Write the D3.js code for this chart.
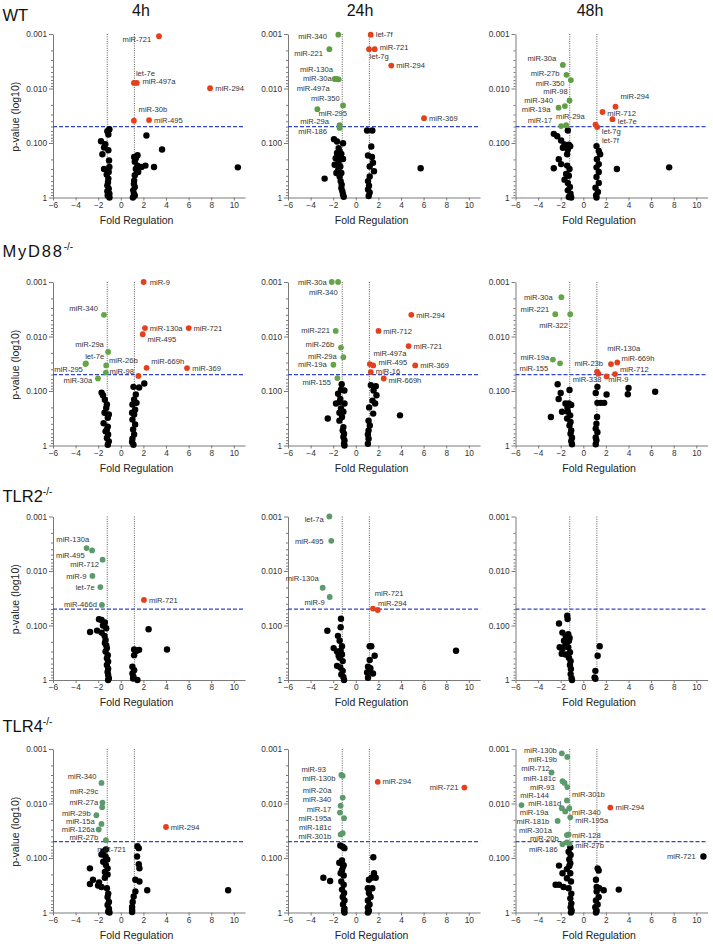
<!DOCTYPE html>
<html>
<head>
<meta charset="utf-8">
<script src="https://cdn.jsdelivr.net/npm/d3@7"></script>
<style>
  body { margin: 0; background: #fff; }
  svg { display: block; }
  text { font-family: "Liberation Sans", Arial, sans-serif; }
</style>
</head>
<body>
<svg id="chart" width="713" height="944"></svg>
<script>
// ----------------------------
// Data
// ----------------------------
const genotypes = ['WT', 'MyD88', 'TLR2', 'TLR4'];
const timepoints = ['4h', '24h', '48h'];
const xTicks = [-6, -4, -2, 0, 2, 4, 6, 8, 10];
const yTicks = [0.001, 0.01, 0.1, 1];
const yTickLabels = ['0.001', '0.010', '0.100', '1'];
const pCutoff = 0.05;
const foldCutoff = 1.2;

// significant / labelled miRNAs: [name, fold regulation, p-value, direction]
const wt4hSig = [
  ['miR-721', 3.38, 0.0011, 'up'], ['let-7e', 1.16, 0.0079, 'up'], ['miR-497a', 1.42, 0.0079, 'up'],
  ['miR-294', 7.9, 0.0099, 'up'], ['miR-30b', 1.16, 0.039, 'up'], ['miR-495', 2.5, 0.038, 'up']
];
const wt4hNs = [
  [-1.01, 0.056], [-1.19, 0.061], [-1.07, 0.058], [-1.75, 0.093], [-1.37, 0.105], [-1.10, 0.070], [-1.63, 0.161],
  [-1.10, 0.136], [-1.48, 0.121], [-1.04, 0.21], [-1.48, 0.30], [-1.01, 0.275], [-1.10, 0.45], [-1.13, 0.52],
  [-1.19, 0.60], [-1.07, 0.69], [-1.19, 0.77], [-1.01, 0.85], [-1.16, 0.92], [-1.0, 1.0], [-1.07, 0.34], [-1.25, 0.38],
  [2.27, 0.073], [3.65, 0.132], [2.94, 0.275], [1.48, 0.168], [1.33, 0.19], [1.24, 0.22], [1.48, 0.26], [2.18, 0.26],
  [1.83, 0.275], [1.54, 0.34], [1.24, 0.39], [1.18, 0.49], [1.16, 0.56], [1.24, 0.64], [1.10, 0.74], [1.16, 0.85],
  [1.24, 0.92], [1.07, 1.0], [10.36, 0.28], [1.18, 0.18], [1.33, 0.30]
];

const wt24hSig = [
  ['miR-340', -1.55, 0.00103, 'down'], ['miR-221', -2.34, 0.0019, 'down'], ['miR-130a', -1.87, 0.0067, 'down'],
  ['miR-30a', -1.69, 0.0067, 'down'], ['miR-497a', -1.52, 0.0068, 'down'], ['miR-350', -1.13, 0.0205, 'down'],
  ['miR-295', -3.40, 0.024, 'down'], ['miR-29a', -1.43, 0.047, 'down'], ['miR-186', -1.43, 0.053, 'down'],
  ['let-7f', 1.32, 0.00103, 'up'], ['miR-721', 1.67, 0.0019, 'up'], ['let-7g', 1.17, 0.0019, 'up'],
  ['miR-294', 3.14, 0.0038, 'up'], ['miR-369', 6.04, 0.035, 'up']
];
const wt24hNs = [
  [-1.93, 0.085], [-1.66, 0.094], [-1.52, 0.124], [-1.13, 0.101], [-1.66, 0.153], [-1.43, 0.143], [-1.28, 0.158],
  [-1.78, 0.19], [-1.52, 0.22], [-1.13, 0.197], [-1.87, 0.25], [-1.37, 0.27], [-1.55, 0.31], [-1.28, 0.355],
  [-1.43, 0.41], [-1.34, 0.50], [-1.25, 0.58], [-1.28, 0.67], [-1.19, 0.77], [-1.13, 0.88], [-1.07, 0.97],
  [-1.58, 0.176], [-1.72, 0.355], [-2.76, 0.45],
  [1.0, 0.059], [1.46, 0.059], [1.37, 0.116], [1.08, 0.17], [1.43, 0.18], [1.52, 0.23], [1.23, 0.27], [1.61, 0.33],
  [1.23, 0.41], [1.08, 0.50], [1.17, 0.61], [1.08, 0.71], [1.23, 0.81], [1.14, 0.94], [5.74, 0.29]
];

const wt48hSig = [
  ['miR-30a', -1.81, 0.0037, 'down'], ['miR-27b', -1.49, 0.0056, 'down'], ['miR-350', -1.10, 0.0070, 'down'],
  ['miR-98', -1.22, 0.0166, 'down'], ['miR-340', -1.63, 0.021, 'down'], ['miR-19a', -2.19, 0.0225, 'down'],
  ['miR-17', -1.96, 0.049, 'down'], ['miR-29a', -1.52, 0.047, 'down'],
  ['miR-294', 2.85, 0.0216, 'up'], ['miR-712', 1.70, 0.027, 'up'], ['let-7e', 2.58, 0.0366, 'up'],
  ['let-7g', 1.08, 0.046, 'up'], ['let-7f', 1.23, 0.051, 'up']
];
const wt48hNs = [
  [-1.37, 0.059], [-2.61, 0.068], [-2.31, 0.075], [-1.96, 0.09], [-1.66, 0.106], [-1.28, 0.108], [-1.81, 0.122],
  [-1.37, 0.131], [-1.16, 0.115], [-1.43, 0.161], [-2.17, 0.198], [-1.96, 0.244], [-2.61, 0.29], [-1.43, 0.26],
  [-1.22, 0.30], [-1.52, 0.37], [-1.28, 0.40], [-1.66, 0.47], [-1.37, 0.54], [-1.19, 0.64], [-1.37, 0.74],
  [-1.13, 0.85], [-1.07, 1.0], [-1.28, 0.98],
  [1.17, 0.114], [1.37, 0.14], [1.49, 0.161], [1.20, 0.198], [1.37, 0.244], [1.17, 0.28], [1.37, 0.34], [1.17, 0.42],
  [1.37, 0.54], [1.08, 0.66], [1.29, 0.79], [1.14, 0.91], [1.17, 1.0], [2.97, 0.30], [7.60, 0.28]
];

const myd4hSig = [
  ['miR-9', 2.02, 0.001, 'up'], ['miR-130a', 2.14, 0.0070, 'up'], ['miR-721', 6.01, 0.0070, 'up'],
  ['miR-495', 1.94, 0.0091, 'up'], ['miR-669h', 2.28, 0.0375, 'up'], ['miR-369', 5.86, 0.038, 'up'],
  ['', 1.56, 0.053, 'up'],
  ['miR-340', -1.49, 0.0040, 'down'], ['miR-29a', -1.12, 0.0192, 'down'], ['let-7e', -3.09, 0.031, 'down'],
  ['miR-295', -3.12, 0.032, 'down'], ['miR-26b', -1.29, 0.034, 'down'], ['miR-98', -1.32, 0.046, 'down'],
  ['miR-30a', -2.02, 0.059, 'down']
];
const myd4hNs = [
  [-1.70, 0.107], [-1.58, 0.12], [-1.23, 0.177], [-1.44, 0.25], [-1.15, 0.31], [-1.52, 0.39], [-1.15, 0.45],
  [-1.35, 0.55], [-1.12, 0.63], [-1.23, 0.73], [-1.06, 0.84], [-1.15, 0.97], [-1.41, 0.145], [-1.29, 0.205],
  [-1.06, 0.27], [-1.23, 0.51],
  [1.12, 0.084], [1.62, 0.086], [2.08, 0.073], [1.33, 0.116], [1.18, 0.143], [1.03, 0.177], [1.27, 0.22],
  [1.18, 0.27], [1.03, 0.335], [1.27, 0.41], [1.09, 0.51], [1.18, 0.63], [1.03, 0.75], [1.0, 0.86], [1.12, 0.97],
  [1.39, 0.165], [1.0, 0.25]
];

const myd24hSig = [
  ['miR-30a', -2.13, 0.001, 'down'], ['miR-340', -1.57, 0.001, 'down'], ['miR-221', -1.78, 0.0079, 'down'],
  ['miR-26b', -1.31, 0.016, 'down'], ['miR-29a', -1.10, 0.024, 'down'], ['miR-19a', -1.98, 0.033, 'down'],
  ['miR-155', -1.63, 0.058, 'down'],
  ['miR-294', 4.91, 0.0040, 'up'], ['miR-712', 2.01, 0.0079, 'up'], ['miR-721', 4.67, 0.015, 'up'],
  ['miR-497a', 1.24, 0.032, 'up'], ['miR-495', 1.54, 0.034, 'up'], ['miR-16', 1.33, 0.045, 'up'],
  ['miR-369', 5.26, 0.034, 'up'], ['miR-669h', 2.47, 0.059, 'up']
];
const myd24hNs = [
  [-1.25, 0.075], [-1.31, 0.095], [-1.01, 0.098], [-1.57, 0.112], [-1.75, 0.17], [-1.45, 0.16], [-1.0, 0.17],
  [-1.31, 0.21], [-1.10, 0.24], [-1.45, 0.25], [-1.22, 0.30], [-1.45, 0.35], [-1.10, 0.46], [-1.16, 0.53],
  [-1.04, 0.61], [-1.10, 0.70], [-1.0, 0.81], [-1.04, 0.93], [-1.0, 1.0], [-1.37, 0.14], [-2.48, 0.32],
  [1.33, 0.078], [1.77, 0.082], [1.57, 0.098], [1.83, 0.12], [1.48, 0.15], [1.71, 0.17], [1.18, 0.20],
  [1.54, 0.26], [1.13, 0.35], [1.24, 0.43], [1.13, 0.53], [1.07, 0.63], [1.13, 0.75], [1.07, 0.93], [3.91, 0.28]
];

const myd48hSig = [
  ['miR-30a', -1.94, 0.0019, 'down'], ['miR-221', -2.48, 0.0039, 'down'], ['miR-322', -1.16, 0.0039, 'down'],
  ['miR-19a', -2.69, 0.0265, 'down'], ['miR-155', -2.06, 0.031, 'down'],
  ['miR-130a', 2.45, 0.032, 'up'], ['miR-669h', 3.01, 0.030, 'up'], ['miR-712', 2.81, 0.049, 'up'],
  ['miR-9', 2.06, 0.054, 'up'], ['miR-23b', 1.22, 0.044, 'up'], ['miR-338', 1.34, 0.048, 'up']
];
const myd48hNs = [
  [-2.27, 0.075], [-2.0, 0.109], [-2.18, 0.14], [-1.58, 0.17], [-1.22, 0.096], [-1.28, 0.17], [-1.88, 0.24],
  [-1.07, 0.18], [-2.87, 0.30], [-1.37, 0.24], [-1.16, 0.28], [-1.43, 0.32], [-1.13, 0.37], [-1.22, 0.43],
  [-1.07, 0.53], [-1.13, 0.61], [-1.0, 0.72], [-1.07, 0.83], [-1.0, 0.95], [-1.40, 0.20],
  [1.25, 0.084], [1.10, 0.109], [2.06, 0.116], [1.25, 0.165], [1.55, 0.165], [1.85, 0.165], [4.0, 0.088],
  [3.94, 0.115], [6.36, 0.103], [1.16, 0.40], [1.10, 0.49], [1.25, 0.57], [1.10, 0.71], [1.16, 0.80],
  [1.10, 0.95], [1.22, 0.30]
];

const tlr2_4hSig = [
  ['miR-130a', -3.03, 0.0038, 'down'], ['miR-495', -2.54, 0.0042, 'down'], ['miR-712', -1.61, 0.0062, 'down'],
  ['miR-9', -2.51, 0.0123, 'down'], ['let-7e', -1.81, 0.0197, 'down'], ['miR-466d', -1.67, 0.042, 'down'],
  ['miR-721', 2.05, 0.034, 'up']
];
const tlr2_4hNs = [
  [-1.93, 0.077], [-1.70, 0.079], [-1.41, 0.088], [-1.58, 0.10], [-1.29, 0.112], [-2.72, 0.132], [-2.10, 0.124],
  [-1.70, 0.135], [-1.44, 0.155], [-1.35, 0.185], [-1.29, 0.23], [-1.23, 0.26], [-1.35, 0.30], [-1.15, 0.35],
  [-1.23, 0.40], [-1.12, 0.46], [-1.23, 0.53], [-1.12, 0.62], [-1.17, 0.71], [-1.12, 0.81], [-1.06, 0.93],
  [-1.12, 1.0], [-1.41, 0.21],
  [2.46, 0.117], [4.09, 0.275], [1.18, 0.275], [1.62, 0.28], [1.41, 0.29], [1.18, 0.35], [1.03, 0.57],
  [1.18, 0.66], [1.03, 0.76], [1.09, 0.94], [1.47, 1.0], [1.12, 0.87]
];

const tlr2_24hSig = [
  ['let-7a', -2.34, 0.001, 'down'], ['miR-495', -2.17, 0.0028, 'down'], ['miR-130a', -2.93, 0.0203, 'down'],
  ['miR-9', -2.31, 0.030, 'down'], ['miR-721', 1.52, 0.049, 'up'], ['miR-294', 1.94, 0.052, 'up']
];
const tlr2_24hNs = [
  [-1.31, 0.075], [-1.34, 0.108], [-2.52, 0.125], [-1.58, 0.155], [-1.43, 0.19], [-1.96, 0.26], [-1.66, 0.30],
  [-1.34, 0.29], [-1.22, 0.34], [-1.43, 0.39], [-1.16, 0.45], [-1.66, 0.55], [-1.37, 0.59], [-1.16, 0.68],
  [-1.28, 0.79], [-1.10, 0.88], [-1.04, 1.0], [-1.22, 0.24], [-1.52, 0.36],
  [1.23, 0.24], [1.37, 0.24], [1.67, 0.36], [1.23, 0.43], [1.08, 0.57], [1.29, 0.61], [1.52, 0.76], [1.0, 0.73],
  [1.08, 0.91], [1.2, 0.68], [8.87, 0.29]
];

const tlr2_48hSig = [];
const tlr2_48hNs = [
  [-1.42, 0.066], [-1.39, 0.076], [-2.15, 0.092], [-1.85, 0.135], [-1.56, 0.155], [-1.33, 0.145], [-1.21, 0.17],
  [-1.71, 0.19], [-2.09, 0.25], [-1.85, 0.27], [-1.50, 0.21], [-1.33, 0.25], [-1.18, 0.31], [-1.56, 0.34],
  [-1.27, 0.39], [-1.12, 0.45], [-1.18, 0.53], [-1.10, 0.63], [-1.12, 0.78], [-1.04, 0.93], [-1.0, 1.0],
  [-1.62, 0.24], [-1.91, 0.33], [-1.27, 0.19],
  [1.45, 0.24], [1.27, 0.36], [1.07, 0.68], [1.0, 0.90], [1.07, 0.95]
];

const tlr4_4hSig = [
  ['miR-340', -1.71, 0.0042, 'down'], ['miR-29c', -1.62, 0.0096, 'down'], ['miR-27a', -1.65, 0.0117, 'down'],
  ['miR-29b', -2.16, 0.0164, 'down'], ['miR-15a', -1.71, 0.0237, 'down'], ['miR-126a', -1.95, 0.030, 'down'],
  ['miR-27b', -1.32, 0.047, 'down'], ['miR-294', 4.0, 0.027, 'up'], ['miR-721', 1.59, 0.066, 'ns']
];
const tlr4_4hNs = [
  [-1.32, 0.070], [-1.71, 0.086], [-1.35, 0.094], [-1.20, 0.106], [-1.56, 0.117], [-1.32, 0.134], [-1.17, 0.155],
  [-2.73, 0.155], [-1.41, 0.18], [-2.46, 0.25], [-1.17, 0.20], [-2.73, 0.30], [-1.92, 0.28], [-1.41, 0.23],
  [-2.01, 0.32], [-1.71, 0.34], [-1.23, 0.36], [-1.11, 0.45], [-1.17, 0.52], [-1.05, 0.64], [-1.17, 0.73],
  [-1.05, 0.85], [-1.11, 0.97], [-1.0, 1.0], [-1.56, 0.077],
  [1.47, 0.061], [1.44, 0.094], [1.59, 0.13], [1.65, 0.155], [1.29, 0.25], [1.65, 0.27], [2.34, 0.39],
  [1.29, 0.41], [1.14, 0.51], [1.05, 0.64], [1.0, 0.79], [1.0, 0.90], [1.0, 0.98], [9.5, 0.39]
];

const tlr4_24hSig = [
  ['miR-93', -1.28, 0.0030, 'down'], ['miR-130b', -1.16, 0.0031, 'down'], ['miR-20a', -1.16, 0.0078, 'down'],
  ['miR-340', -1.34, 0.011, 'down'], ['miR-17', -1.40, 0.0147, 'down'], ['miR-195a', -1.04, 0.0186, 'down'],
  ['miR-181c', -1.16, 0.035, 'down'], ['miR-301b', -1.34, 0.037, 'down'],
  ['miR-294', 1.94, 0.0040, 'up'], ['miR-721', 9.61, 0.0051, 'up']
];
const tlr4_24hNs = [
  [-1.37, 0.059], [-1.16, 0.062], [-1.01, 0.066], [-1.46, 0.122], [-1.22, 0.111], [-1.07, 0.135], [-2.87, 0.23],
  [-2.27, 0.265], [-1.22, 0.167], [-1.07, 0.21], [-1.28, 0.27], [-1.07, 0.31], [-1.22, 0.38], [-1.04, 0.44],
  [-1.16, 0.52], [-1.0, 0.60], [-1.13, 0.71], [-1.0, 0.85], [-1.04, 0.93], [-1.0, 1.0], [-1.34, 0.19],
  [-1.13, 0.145],
  [1.55, 0.097], [1.61, 0.19], [1.40, 0.23], [1.76, 0.23], [1.16, 0.25], [1.07, 0.36], [1.46, 0.36],
  [1.16, 0.44], [1.31, 0.52], [1.07, 0.60], [1.22, 0.71], [1.07, 0.81], [1.16, 0.93], [1.07, 1.0]
];

const tlr4_48hSig = [
  ['miR-130b', -1.90, 0.0012, 'down'], ['miR-19b', -1.42, 0.0014, 'down'], ['miR-712', -2.81, 0.0027, 'down'],
  ['miR-181c', -1.84, 0.0039, 'down'], ['', -1.66, 0.0042, 'down'], ['miR-93', -1.42, 0.0050, 'down'],
  ['miR-144', -5.47, 0.0107, 'down'], ['miR-301b', -1.45, 0.0088, 'down'], ['miR-181d', -1.90, 0.0122, 'down'],
  ['miR-19a', -1.60, 0.014, 'down'], ['miR-340', -1.24, 0.0122, 'down'], ['miR-195a', -1.15, 0.0179, 'down'],
  ['miR-181b', -2.27, 0.0209, 'down'], ['miR-301a', -1.45, 0.038, 'down'], ['miR-128', -1.30, 0.037, 'down'],
  ['miR-20b', -1.45, 0.052, 'down'], ['miR-186', -1.84, 0.056, 'down'], ['miR-27b', -1.21, 0.054, 'down'],
  ['miR-294', 2.39, 0.0119, 'up'], ['miR-721', 10.63, 0.094, 'ns']
];
const tlr4_48hNs = [
  [-1.15, 0.064], [-1.30, 0.077], [-1.12, 0.088], [-1.24, 0.106], [-1.15, 0.125], [-2.15, 0.138], [-1.45, 0.16],
  [-1.84, 0.19], [-1.15, 0.19], [-1.45, 0.235], [-2.45, 0.31], [-2.15, 0.31], [-1.75, 0.34], [-1.09, 0.27],
  [-1.30, 0.36], [-1.06, 0.45], [-1.15, 0.55], [-1.06, 0.68], [-1.12, 0.80], [-1.03, 0.93], [-1.09, 1.0],
  [-1.24, 0.14],
  [1.27, 0.155], [1.36, 0.17], [1.12, 0.25], [1.18, 0.34], [1.42, 0.36], [1.81, 0.39], [1.18, 0.41],
  [1.36, 0.52], [1.12, 0.60], [1.27, 0.71], [1.06, 0.80], [1.18, 0.93], [1.12, 1.0], [3.14, 0.38]
];

// ----------------------------
// Label placement (px offsets from the dot: dx, dy, text-anchor)
// ----------------------------
const labelPos = {
  WT_4h: {
    'miR-721': [-7.7, 3, 'end'], 'let-7e': [2, -9.7, 'start'], 'miR-497a': [5.7, -2, 'start'],
    'miR-294': [5.3, 0.3, 'start'], 'miR-30b': [4.7, -11.7, 'start'], 'miR-495': [5, 0, 'start']
  },
  WT_24h: {
    'miR-340': [-11.3, 1.3, 'end'], 'miR-221': [-6.3, 4, 'end'], 'miR-130a': [-1.7, -10, 'end'],
    'miR-30a': [-5, -1, 'end'], 'miR-497a': [-9, 8.7, 'end'], 'miR-350': [-3.3, -7.3, 'end'],
    'miR-295': [1, 4.5, 'start'], 'miR-29a': [-10.7, -4, 'end'], 'miR-186': [-12.7, 3.3, 'end'],
    'let-7f': [5, -0.3, 'start'], 'miR-721': [5, -2.3, 'start'], 'let-7g': [0.7, 6.7, 'start'],
    'miR-294': [5, 0, 'start'], 'miR-369': [5, 0, 'start']
  },
  WT_48h: {
    'miR-30a': [-6.7, -6.7, 'end'], 'miR-27b': [-7, -1, 'end'], 'miR-350': [-6.3, 3, 'end'],
    'miR-98': [-1.7, -8.7, 'end'], 'miR-340': [-12, -5.3, 'end'], 'miR-19a': [-8, 1.3, 'end'],
    'miR-17': [-9, -5.7, 'end'], 'miR-29a': [-10, -9, 'start'], 'miR-294': [5, -10, 'start'],
    'miR-712': [4.7, 0.8, 'start'], 'let-7e': [5.3, 2, 'start'], 'let-7g': [6.3, 6.5, 'start'],
    'let-7f': [4.7, 13.7, 'start']
  },
  MyD88_4h: {
    'miR-9': [6, 0, 'start'], 'miR-130a': [4.7, 0, 'start'], 'miR-721': [4.7, 0, 'start'],
    'miR-495': [4.7, 4.7, 'start'], 'miR-669h': [4.7, -6.3, 'start'], 'miR-369': [5.3, 0, 'start'],
    'miR-340': [-6, -6.3, 'end'], 'miR-29a': [-4.3, -8, 'end'], 'let-7e': [-0.7, -7, 'start'],
    'miR-295': [-2.7, 5.3, 'end'], 'miR-26b': [2.7, -5.3, 'start'], 'miR-98': [3.7, -1.7, 'start'],
    'miR-30a': [-5.7, 1.7, 'end']
  },
  MyD88_24h: {
    'miR-30a': [-5, 0, 'end'], 'miR-340': [-0.3, 10.7, 'end'], 'miR-221': [-5.7, -0.7, 'end'],
    'miR-26b': [-6.7, -3, 'end'], 'miR-29a': [-6.7, -1.3, 'end'], 'miR-19a': [-6.7, 0, 'end'],
    'miR-155': [-6.3, 4, 'end'], 'miR-294': [5, 0, 'start'], 'miR-712': [4.7, 0, 'start'],
    'miR-721': [5, 0, 'start'], 'miR-497a': [3.7, -10.3, 'start'], 'miR-495': [5.3, -3.3, 'start'],
    'miR-16': [5, -1.3, 'start'], 'miR-369': [5, 0, 'start'], 'miR-669h': [4.7, 1.7, 'start']
  },
  MyD88_48h: {
    'miR-30a': [-8.7, 0, 'end'], 'miR-221': [-6, -5.3, 'end'], 'miR-322': [-2.3, 11, 'end'],
    'miR-19a': [-3.7, -2.7, 'end'], 'miR-155': [-11.7, 5.3, 'end'], 'miR-130a': [-3.7, -16, 'start'],
    'miR-669h': [4.3, -4.3, 'start'], 'miR-712': [5, -5, 'start'], 'miR-9': [1.7, 3.3, 'start'],
    'miR-23b': [6, -8.7, 'end'], 'miR-338': [3, 5.7, 'end']
  },
  TLR2_4h: {
    'miR-130a': [2.7, -9, 'end'], 'miR-495': [-7.3, 5, 'end'], 'miR-712': [-3.7, 5, 'end'],
    'miR-9': [-6, 0, 'end'], 'let-7e': [-5.7, 0, 'end'], 'miR-466d': [-5, -1, 'end'], 'miR-721': [5, 0, 'start']
  },
  TLR2_24h: {
    'let-7a': [-5.7, 2.7, 'end'], 'miR-495': [-7.7, 0, 'end'], 'miR-130a': [-4, -9.7, 'end'],
    'miR-9': [-5, 5, 'end'], 'miR-721': [1.7, -15.3, 'start'], 'miR-294': [0.3, -6.7, 'start']
  },
  TLR2_48h: {},
  TLR4_4h: {
    'miR-340': [-5, -7, 'end'], 'miR-29c': [-4.3, -11, 'end'], 'miR-27a': [-4, -5, 'end'],
    'miR-29b': [-5.7, -2, 'end'], 'miR-15a': [-6.7, -3, 'end'], 'miR-126a': [-4, -0.3, 'end'],
    'miR-27b': [-7.7, -3.2, 'end'], 'miR-294': [4.7, 0, 'start'], 'miR-721': [-12.7, 1, 'end']
  },
  TLR4_24h: {
    'miR-93': [-15.3, -5.3, 'end'], 'miR-130b': [-7.3, 2.7, 'end'], 'miR-20a': [-11.3, -7.7, 'end'],
    'miR-340': [-9.3, -6, 'end'], 'miR-17': [-8.7, -3.3, 'end'], 'miR-195a': [-12.7, 0, 'end'],
    'miR-181c': [-11.3, -6, 'end'], 'miR-301b': [-9.3, 1.7, 'end'], 'miR-294': [4.7, -0.7, 'start'],
    'miR-721': [-6, 0, 'end']
  },
  TLR4_48h: {
    'miR-130b': [-5, -3.3, 'end'], 'miR-19b': [-10.3, 2.7, 'end'], 'miR-712': [-1.7, -4.3, 'end'],
    'miR-181c': [-6.7, -3.3, 'end'], 'miR-93': [-12.7, 0, 'end'], 'miR-144': [-1.3, -10, 'start'],
    'miR-181d': [-0.7, -5, 'end'], 'miR-19a': [-16.7, 0.7, 'end'], 'miR-181b': [-8.3, 0, 'end'],
    'miR-301a': [-15, -5, 'end'], 'miR-20b': [-8.3, -4.3, 'end'], 'miR-186': [-4.7, 4.7, 'end'],
    'miR-301b': [5, -6.3, 'start'], 'miR-340': [2.7, 4, 'start'], 'miR-195a': [5, 3.3, 'start'],
    'miR-128': [3.3, 0.7, 'start'], 'miR-27b': [5.7, 2.3, 'start'], 'miR-294': [5.3, 0, 'start'],
    'miR-721': [-7.7, 0, 'end']
  }
};

const panels = [
  { row: 0, col: 0, sig: wt4hSig, ns: wt4hNs },
  { row: 0, col: 1, sig: wt24hSig, ns: wt24hNs },
  { row: 0, col: 2, sig: wt48hSig, ns: wt48hNs },
  { row: 1, col: 0, sig: myd4hSig, ns: myd4hNs },
  { row: 1, col: 1, sig: myd24hSig, ns: myd24hNs },
  { row: 1, col: 2, sig: myd48hSig, ns: myd48hNs },
  { row: 2, col: 0, sig: tlr2_4hSig, ns: tlr2_4hNs },
  { row: 2, col: 1, sig: tlr2_24hSig, ns: tlr2_24hNs },
  { row: 2, col: 2, sig: tlr2_48hSig, ns: tlr2_48hNs },
  { row: 3, col: 0, sig: tlr4_4hSig, ns: tlr4_4hNs },
  { row: 3, col: 1, sig: tlr4_24hSig, ns: tlr4_24hNs },
  { row: 3, col: 2, sig: tlr4_48hSig, ns: tlr4_48hNs }
];

// ----------------------------
// Layout / style
// ----------------------------
const colLeft = [53, 288, 515.5];
const rowTop = [34, 282, 516.5, 749];
const plotH = 163.5;
const unitW = 11.3;
const titleX = [141, 360, 590];
const rowLabelY = [20.7, 257.3, 501.7, 731.7];
const colors = { up: '#e4401c', ns: '#000' };
const greenByRow = ['#5f9e45', '#65a447', '#5c9a6c', '#5c9a6c'];
const axisColor = '#7a7a7a';

const svg = d3.select('#chart');
svg.append('rect').attr('width', 713).attr('height', 944).attr('fill', '#fff');

// column titles
svg.selectAll('.col-title')
  .data(timepoints)
  .enter()
  .append('text')
  .attr('x', (d, i) => titleX[i])
  .attr('y', 15.5)
  .attr('text-anchor', 'middle')
  .attr('font-size', '16px')
  .attr('fill', '#111')
  .text(d => d);

// row labels
genotypes.forEach((name, i) => {
  const t = svg.append('text')
    .attr('x', 2.5)
    .attr('y', rowLabelY[i])
    .attr('font-size', '16.5px')
    .attr('fill', '#111');
  t.append('tspan')
    .attr('letter-spacing', name === 'MyD88' ? '1.8px' : null)
    .text(name);
  if (name !== 'WT') {
    t.append('tspan')
      .attr('dy', -7)
      .attr('font-size', '10px')
      .text('-/-');
  }
});

function minorTicks() {
  const out = [];
  [0.001, 0.01, 0.1].forEach(dec => {
    for (let k = 2; k <= 9; k++) out.push(dec * k);
  });
  return out;
}

function styleAxis(sel) {
  sel.select('.domain').attr('stroke', axisColor).attr('stroke-width', 1);
  sel.selectAll('.tick line').attr('stroke', axisColor);
  sel.selectAll('.tick text')
    .attr('fill', '#333')
    .attr('font-size', '8.3px')
    .attr('font-family', '"Liberation Sans", Arial, sans-serif');
}

panels.forEach(pn => {
  const key = `${genotypes[pn.row]}_${timepoints[pn.col]}`;
  const place = labelPos[key] || {};
  const left = colLeft[pn.col];
  const top = rowTop[pn.row];

  const x = d3.scaleLinear().domain([-6, 11]).range([left, left + 17 * unitW]);
  const y = d3.scaleLog().domain([0.001, 1]).range([top, top + plotH]);
  const green = greenByRow[pn.row];

  const g = svg.append('g');

  // ---- axes
  const yAx = g.append('g')
    .attr('transform', `translate(${x(-6)},0)`)
    .call(d3.axisLeft(y).tickValues(yTicks).tickFormat((d, i) => yTickLabels[i]).tickSize(4).tickSizeOuter(0).tickPadding(2));
  styleAxis(yAx);

  const yMinor = g.append('g')
    .attr('transform', `translate(${x(-6)},0)`)
    .call(d3.axisLeft(y).tickValues(minorTicks()).tickFormat('').tickSize(2).tickSizeOuter(0));
  yMinor.select('.domain').remove();
  yMinor.selectAll('.tick line').attr('stroke', axisColor);

  const xAx = g.append('g')
    .attr('transform', `translate(0,${y(1)})`)
    .call(d3.axisBottom(x).tickValues(xTicks).tickSize(3).tickSizeOuter(0).tickPadding(1.5));
  styleAxis(xAx);

  // ---- axis titles
  g.append('text')
    .attr('x', x(1.4))
    .attr('y', y(1) + 26)
    .attr('text-anchor', 'middle')
    .attr('font-size', '10.5px')
    .attr('fill', '#222')
    .text('Fold Regulation');

  if (pn.col === 0) {
    const cy = top + plotH / 2 + 1;
    g.append('text')
      .attr('transform', `translate(19,${cy}) rotate(-90)`)
      .attr('text-anchor', 'middle')
      .attr('font-size', '10.5px')
      .attr('fill', '#222')
      .text('p-value (log10)');
  }

  // ---- cutoff lines
  g.selectAll('.vcut')
    .data([-foldCutoff, foldCutoff])
    .enter()
    .append('line')
    .attr('x1', d => x(d)).attr('x2', d => x(d))
    .attr('y1', y(0.001)).attr('y2', y(1))
    .attr('stroke', '#333')
    .attr('stroke-width', 0.8)
    .attr('stroke-dasharray', '1,1.3');

  g.append('line')
    .attr('x1', x(-6)).attr('x2', x(11))
    .attr('y1', y(pCutoff)).attr('y2', y(pCutoff))
    .attr('stroke', '#3345c8')
    .attr('stroke-width', 1.1)
    .attr('stroke-dasharray', '4,2');

  // ---- dots
  g.append('g')
    .selectAll('circle')
    .data(pn.ns)
    .enter()
    .append('circle')
    .attr('cx', d => x(d[0]))
    .attr('cy', d => y(d[1]))
    .attr('r', 3.2)
    .attr('fill', '#000');

  g.append('g')
    .selectAll('circle')
    .data(pn.sig)
    .enter()
    .append('circle')
    .attr('cx', d => x(d[1]))
    .attr('cy', d => y(d[2]))
    .attr('r', d => d[3] === 'ns' ? 3.2 : 2.9)
    .attr('fill', d => d[3] === 'down' ? green : colors[d[3]]);

  // ---- labels
  g.append('g')
    .selectAll('text')
    .data(pn.sig.filter(d => d[0]))
    .enter()
    .append('text')
    .attr('x', d => x(d[1]) + (place[d[0]] || [5, 0, 'start'])[0])
    .attr('y', d => y(d[2]) + (place[d[0]] || [5, 0, 'start'])[1] + 2.7)
    .attr('text-anchor', d => (place[d[0]] || [5, 0, 'start'])[2])
    .attr('font-size', '7.6px')
    .attr('fill', '#333')
    .text(d => d[0]);
});
</script>
</body>
</html>
